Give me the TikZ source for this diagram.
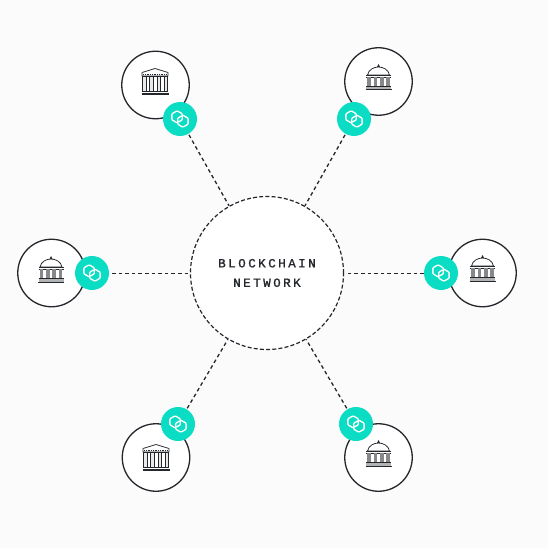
\documentclass[tikz,border=0pt]{standalone}
\usepackage{fontspec}
\newfontfamily\netfont[LetterSpace=20,FakeBold=1.2]{Liberation Mono}
\definecolor{bgc}{HTML}{FBFBFB}
\definecolor{ink}{HTML}{23262B}
\definecolor{teal}{HTML}{0BDDC4}
\tikzset{
  x=1pt,y=-1pt,
  hub/.style={circle,draw=ink,fill=white,line width=1.2pt,dash pattern=on 4pt off 2.2pt,minimum size=153pt,inner sep=0pt,align=center,font=\netfont\fontsize{12.5}{19.5}\selectfont,text=ink},
  bank/.style={circle,draw=ink,fill=white,line width=1.3pt,minimum size=67.5pt,inner sep=0pt},
  badge/.style={circle,fill=teal,minimum size=34pt,inner sep=0pt},
  link/.style={draw=ink,line width=1.3pt,dash pattern=on 3.6pt off 3pt},
  iconline/.style={draw=ink,line width=.75pt,line join=round},
  pics/temple/.style={code={
    \draw[iconline,fill=white] (-13,-6) -- (-13,-9.5) -- (0,-13.5) -- (13,-9.5) -- (13,-6) -- cycle;
    \draw[iconline,densely dotted] (-12,-7.5) -- (12,-7.5);
    \foreach \a in {-10.7,-3.7,3.7,10.7}{\draw[iconline,fill=ink!10] (\a-1.6,-5.5) rectangle (\a+1.6,9);}
    \draw[iconline] (-13,-5.5) -- (13,-5.5);
    \draw[iconline] (-13,9.4) -- (13,9.4);
    \draw[ink,line width=1.5pt] (-13.5,11.8) -- (13.5,11.8);
  }},
  pics/dome/.style={code={
    \draw[iconline,fill=white] (-11,-4.5) .. controls (-10,-10) and (-4.5,-12.5) .. (0,-12.5) .. controls (4.5,-12.5) and (10,-10) .. (11,-4.5) -- cycle;
    \fill[ink] (0,-15.5) -- (1.5,-12.5) -- (-1.5,-12.5) -- cycle;
    \draw[iconline] (-12.5,-4.5) -- (12.5,-4.5);
    \draw[iconline] (-12.5,-2.6) -- (12.5,-2.6);
    \foreach \a in {-9.5,-3.2,3.2,9.5}{\fill[ink!55] (\a-1.8,-2.5) rectangle (\a+1.8,6.5);}
    \draw[ink,line width=1pt] (-12.5,7) -- (12.5,7);
    \fill[ink!35] (-12.5,7.5) rectangle (12.5,10);
    \draw[ink,line width=1pt] (-13,10.5) -- (13,10.5);
  }},
  pics/chain/.style={code={
    \draw[white,line width=1.35pt,rounded corners=.8pt,line cap=round]
      (-3.3,3.6) -- (-8.1,.8) -- (-8.1,-5.2) -- (-2.9,-8.2) -- (2.3,-5.2) -- (2.3,.8) -- (-1.2,2.8)
      (3.3,-3.6) -- (8.1,-.8) -- (8.1,5.2) -- (2.9,8.2) -- (-2.3,5.2) -- (-2.3,-.8) -- (1.2,-2.8);
  }}
}
\begin{document}
\begin{tikzpicture}
\useasboundingbox (0,0) rectangle (548,548);
\fill[bgc] (0,0) rectangle (548,548);
\node[bank] (b1) at (155.5,85) {};
\node[bank] (b2) at (378.5,81.5) {};
\node[bank] (b3) at (51.5,273) {};
\node[bank] (b4) at (482.5,273) {};
\node[bank] (b5) at (156,457.5) {};
\node[bank] (b6) at (378.5,457.5) {};
\node[hub] (hub) at (267,273) {BLOCKCHAIN\\NETWORK};
\node[badge] (c1) at (180,119) {};
\node[badge] (c2) at (354,119) {};
\node[badge] (c3) at (92,273) {};
\node[badge] (c4) at (441,273) {};
\node[badge] (c5) at (178,424) {};
\node[badge] (c6) at (356,424) {};
\coordinate (hl) at (190,273.5);
\coordinate (hr) at (347,273.5);
\coordinate (cl) at (112,273.5);
\coordinate (cr) at (424,273.5);
\draw[link,shorten <=1pt] (c1) -- (hub);
\draw[link,shorten <=1pt] (c2) -- (hub);
\draw[link] (cl) -- (hl);
\draw[link] (cr) -- (hr);
\draw[link,shorten <=1pt] (c5) -- (hub);
\draw[link,shorten <=1pt] (c6) -- (hub);
\pic at (155,82) {temple};
\pic at (378.5,79.5) {dome};
\pic at (51,271.5) {dome};
\pic at (482.5,270.5) {dome};
\pic at (156,458) {temple};
\pic at (378.5,455.5) {dome};
\foreach \n in {c1,c2,c3,c4,c5,c6}{\pic at (\n) {chain};}
\end{tikzpicture}
\end{document}
